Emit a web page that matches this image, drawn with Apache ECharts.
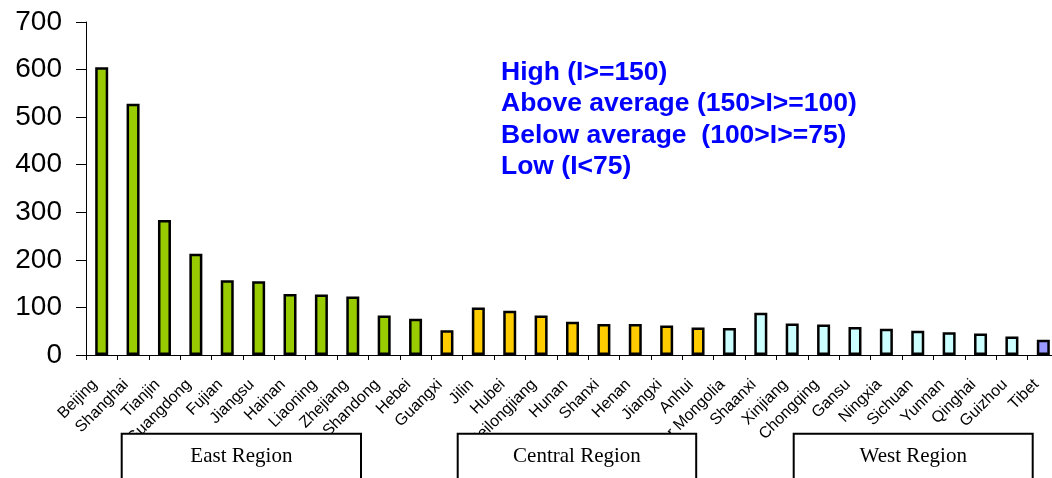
<!DOCTYPE html>
<html><head><meta charset="utf-8">
<script src="https://cdn.jsdelivr.net/npm/echarts@6/dist/echarts.min.js"></script>
<style>html,body{margin:0;padding:0;background:#fff}#c{width:1052px;height:478px}</style>
</head><body><div id="c"></div>
<script>
const provinces = ['Beijing','Shanghai','Tianjin','Guangdong','Fujian','Jiangsu','Hainan','Liaoning','Zhejiang','Shandong','Hebei','Guangxi','Jilin','Hubei','Heilongjiang','Hunan','Shanxi','Henan','Jiangxi','Anhui','Inner Mongolia','Shaanxi','Xinjiang','Chongqing','Gansu','Ningxia','Sichuan','Yunnan','Qinghai','Guizhou','Tibet'];
const values = [605,528,284,213,157,155,128,127,123,83,76,52,100,93,83,70,65,65,62,58,57,89,66,64,59,55,51,48,45,39,32];
const groups = [0,0,0,0,0,0,0,0,0,0,0,1,1,1,1,1,1,1,1,1,2,2,2,2,2,2,2,2,2,2,3];
const groupColors = ['#99CC00','#FFCC00','#CCFFFF','#9999FF'];
const yMin = 0, yMax = 700, yStep = 100;
const legendLines = ['High (I>=150)','Above average (150>I>=100)','Below average  (100>I>=75)','Low (I<75)'];
const regionLabels = ['East Region','Central Region','West Region'];

const chart = echarts.init(document.getElementById('c'), null, {renderer:'canvas'});
const boxX = [121.7, 457.7, 793.7];
const boxW = [239.3, 238.5, 239];
const graphic = [{
  type:'text', left:501, top:57, z:100,
  style:{text:legendLines.join('\n'), fill:'#0000FF', font:'bold 26.5px "Liberation Sans", Arial, sans-serif', lineHeight:31.3}
}];
regionLabels.forEach((t,i)=>{
  graphic.push({type:'rect', z:100, shape:{x:boxX[i], y:433.7, width:boxW[i], height:80},
    style:{fill:'#fff', stroke:'#000', lineWidth:2}});
  graphic.push({type:'text', z:101, x:boxX[i]+boxW[i]/2, y:456,
    style:{text:t, fill:'#000', font:'21px "Liberation Serif", "Times New Roman", serif', align:'center', verticalAlign:'middle'}});
});
chart.setOption({
  animation:false,
  grid:{left:86, top:22, width:973, height:333, containLabel:false, outerBoundsMode:'none'},
  xAxis:{type:'category', data:provinces,
    axisLine:{lineStyle:{color:'#000', width:1}},
    axisTick:{show:true, length:5, alignWithLabel:false, lineStyle:{color:'#000'}},
    axisLabel:{interval:0, rotate:45, fontSize:16, fontFamily:'"Liberation Sans", Arial, sans-serif', color:'#000', margin:20, padding:[0,10,0,0]}
  },
  yAxis:{type:'value', min:yMin, max:yMax, interval:yStep,
    axisLine:{show:true, lineStyle:{color:'#000', width:1}},
    axisTick:{show:true, length:10, lineStyle:{color:'#000'}},
    splitLine:{show:false},
    axisLabel:{fontSize:28, fontFamily:'"Liberation Sans", Arial, sans-serif', color:'#000', margin:24}
  },
  series:[{type:'bar', barWidth:13,
    data: values.map((v,i)=>({value:v, itemStyle:{color:groupColors[groups[i]]}})),
    itemStyle:{borderColor:'#000', borderWidth:2.5}
  }],
  graphic: graphic
});
</script></body></html>
